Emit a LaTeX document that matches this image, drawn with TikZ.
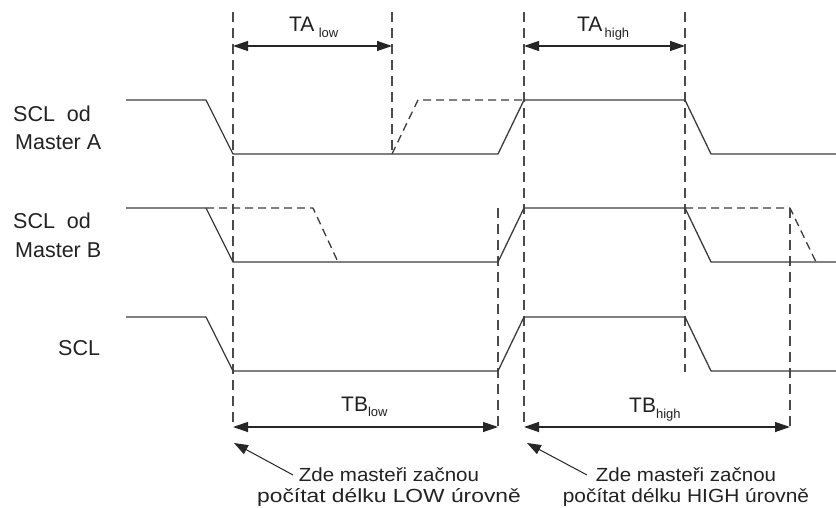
\documentclass[tikz,border=0pt]{standalone}
\usepackage{fontspec}
\usepackage{graphicx}
\setmainfont{Liberation Sans}
\usetikzlibrary{arrows.meta}
\definecolor{wavegray}{HTML}{3C3C3C}
\definecolor{guidegray}{HTML}{4A4A4A}
\definecolor{txt}{HTML}{222222}
\newcommand{\lblfont}{\fontsize{21.5}{28.5}\selectfont}
\newcommand{\tfont}{\fontsize{21}{22}\selectfont}
\newcommand{\subf}{\fontsize{13}{13}\selectfont}
\newcommand{\notefont}{\fontsize{19}{21}\selectfont}
\begin{document}
\begin{tikzpicture}[x=1pt,y=-1pt,
  wave/.style={draw=wavegray,line width=1.3pt,line join=round},
  wavedash/.style={wave,dash pattern=on 8pt off 5pt},
  guide/.style={draw=guidegray,line width=1.1pt,dash pattern=on 10pt off 6pt},
  dim/.style={draw=black!85,line width=1.3pt,{Triangle[length=15pt,width=10pt]}-{Triangle[length=15pt,width=10pt]}},
  pointer/.style={draw=black!85,line width=1pt,-{Triangle[length=14pt,width=10pt]}},
  lbl/.style={inner sep=0pt,text=txt,font=\lblfont,align=left},
  tlbl/.style={inner sep=0pt,text=txt,font=\tfont,anchor=base west},
  note/.style={inner sep=0pt,text=txt,font=\notefont,align=center,anchor=base}]
\useasboundingbox (0,0) rectangle (836,508);
\fill[white] (0,0) rectangle (836,508);

% guide lines
\coordinate (g1t) at (233,12);  \coordinate (g1b) at (233,428);
\coordinate (g2t) at (392,12);  \coordinate (g2b) at (392,154);
\coordinate (g3t) at (524,12);  \coordinate (g3b) at (524,428);
\coordinate (g4t) at (685,12);  \coordinate (g4b) at (685,372);
\coordinate (g5t) at (498,208); \coordinate (g5b) at (498,428);
\coordinate (g6t) at (790,208); \coordinate (g6b) at (790,428);
\foreach \g in {1,...,6} \draw[guide] (g\g t) -- (g\g b);

% SCL from master A
\draw[wave] (126,100) -- (206,100) -- (233,154) -- (498,154) -- (524,100) -- (685,100) -- (711,154) -- (837,154);
\draw[wavedash] (392,154) -- (418,100) -- (524,100);
% SCL from master B
\draw[wave] (126,208) -- (206,208) -- (233,262) -- (498,262) -- (524,208) -- (685,208) -- (711,262) -- (837,262);
\draw[wavedash] (206,208) -- (313,208) -- (338,262);
\draw[wavedash] (685,208) -- (790,208) -- (816,262);
% SCL
\draw[wave] (126,317) -- (206,317) -- (233,371) -- (498,371) -- (524,317) -- (685,317) -- (711,371) -- (837,371);

% dimension arrows
\coordinate (a1) at (233,46); \coordinate (a2) at (392,46);
\coordinate (a3) at (524,46); \coordinate (a4) at (685,46);
\coordinate (b1) at (233,427); \coordinate (b2) at (498,427);
\coordinate (b3) at (524,427); \coordinate (b4) at (790,427);
\draw[dim] (a1) -- (a2);
\draw[dim] (a3) -- (a4);
\draw[dim] (b1) -- (b2);
\draw[dim] (b3) -- (b4);

\node[tlbl] (talow) at (289,32) {TA\raisebox{-6pt}{\subf\,\,low}};
\node[tlbl] (tahigh) at (577,32) {TA\raisebox{-6pt}{\subf\,high}};
\node[tlbl] (tblow) at (341,411) {TB\raisebox{-5pt}{\subf low}};
\node[tlbl] (tbhigh) at (629,412) {TB\raisebox{-6pt}{\subf high}};

% signal labels
\node[lbl,anchor=base west] (la) at (13,150) {SCL\ \ od\\\hspace*{2pt}Master A};
\node[lbl,anchor=base west] (lb) at (13,257) {SCL\ \ od\\\hspace*{2pt}Master B};
\node[lbl,anchor=base west] (lc) at (58,355) {SCL};

% notes
\node[note] (n1) at (389,502) {\scalebox{1.08}[1]{Zde masteři začnou}\\\scalebox{1.2}[1]{počítat délku LOW úrovně}};
\node[note] (n2) at (686,502) {\scalebox{1.08}[1]{Zde masteři začnou}\\\scalebox{1.1}[1]{počítat délku HIGH úrovně}};
\coordinate (p1tail) at (293,475); \coordinate (p1tip) at (234,443);
\coordinate (p2tail) at (587,475); \coordinate (p2tip) at (527,443);
\draw[pointer] (p1tail) -- (p1tip);
\draw[pointer] (p2tail) -- (p2tip);
\end{tikzpicture}
\end{document}
